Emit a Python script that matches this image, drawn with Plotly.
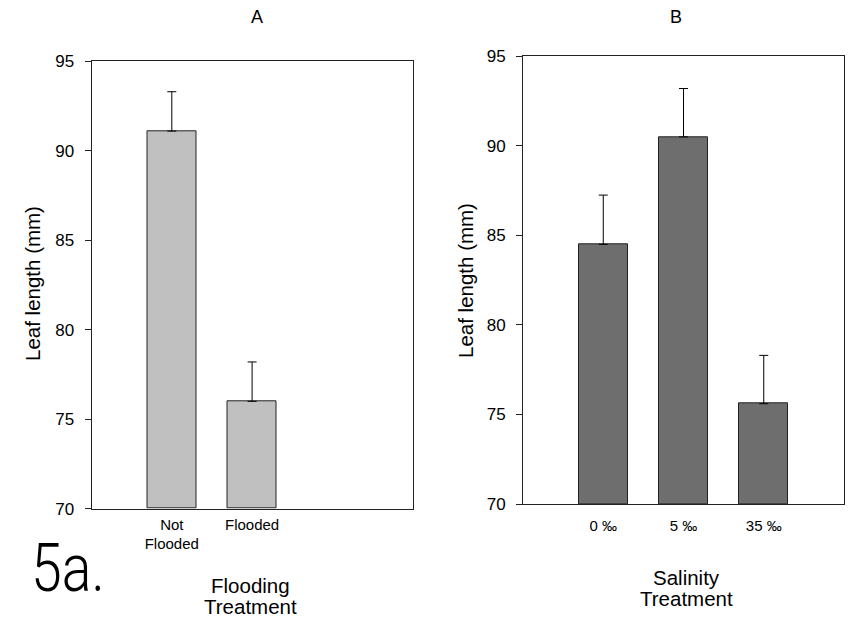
import plotly.graph_objects as go

# Panel A data
flood_labels = ["Not<br>Flooded", "Flooded"]
flood_means = [91.1, 76.0]
flood_se = [2.2, 2.2]

# Panel B data
sal_labels = ["0 ‰", "5 ‰", "35 ‰"]
sal_means = [84.5, 90.5, 75.6]
sal_se = [2.75, 2.7, 2.7]

y_ticks = [70, 75, 80, 85, 90, 95]

W, H = 848, 619
FONT = "Liberation Sans, Arial, sans-serif"

def px_x(v):
    return v / W

def px_y(v):
    return 1 - v / H

fig = go.Figure()

fig.add_trace(go.Bar(
    x=list(range(len(flood_means))), y=[m - 70 for m in flood_means], base=70,
    marker=dict(color="#c0c0c0", line=dict(color="#222222", width=1)),
    width=0.61,
    error_y=dict(type="data", array=flood_se, arrayminus=[0] * len(flood_se), symmetric=False,
                 color="black", thickness=1, width=4.5),
    xaxis="x", yaxis="y", showlegend=False,
))

fig.add_trace(go.Bar(
    x=list(range(len(sal_means))), y=[m - 70 for m in sal_means], base=70,
    marker=dict(color="#6e6e6e", line=dict(color="#222222", width=1)),
    width=0.61,
    error_y=dict(type="data", array=sal_se, arrayminus=[0] * len(sal_se), symmetric=False,
                 color="black", thickness=1, width=4.5),
    xaxis="x2", yaxis="y2", showlegend=False,
))

axis_common_y = dict(
    range=[70, 95], tickvals=y_ticks, ticks="outside", ticklen=6, tickwidth=1,
    tickcolor="#222222", showline=True, linecolor="#222222", linewidth=1, mirror=True,
    showgrid=False, zeroline=False, tickfont=dict(family=FONT, size=17, color="black"),
    ticklabelstandoff=7, automargin=False,
)
axis_common_x = dict(
    range=[-1, 3], ticks="", showline=True, linecolor="#222222", linewidth=1, mirror=True,
    showgrid=False, zeroline=False, tickfont=dict(family=FONT, size=15, color="black"),
    automargin=False,
)

fig.update_layout(
    width=W, height=H, margin=dict(l=0, r=0, t=0, b=0, autoexpand=False),
    plot_bgcolor="white", paper_bgcolor="white",
    bargap=0,
    xaxis=dict(axis_common_x, domain=[px_x(91.5), px_x(412.7)], anchor="y",
               tickvals=list(range(len(flood_labels))), ticktext=flood_labels,
               ticklabelstandoff=2),
    yaxis=dict(axis_common_y, domain=[px_y(508.7), px_y(61.3)], anchor="x"),
    xaxis2=dict(axis_common_x, domain=[px_x(523), px_x(844)], anchor="y2",
                tickvals=list(range(len(sal_labels))), ticktext=sal_labels,
                ticklabelstandoff=8),
    yaxis2=dict(axis_common_y, domain=[px_y(504), px_y(56.3)], anchor="x2"),
)

def ann(text, x, y, size, angle=0, family=FONT, weight=None):
    f = dict(family=family, size=size, color="black")
    if weight:
        f["weight"] = weight
    fig.add_annotation(text=text, x=px_x(x), y=px_y(y), xref="paper", yref="paper",
                       showarrow=False, textangle=angle, xanchor="center", yanchor="middle",
                       font=f)

ann("A", 257, 17, 18)
ann("B", 676, 17, 18)
ann("Leaf length (mm)", 33, 284, 20.5, angle=-90)
ann("Leaf length (mm)", 465, 280, 20.5, angle=-90)
ann("Flooding", 250, 585, 20.5)
ann("Treatment", 250, 606, 20.5)
ann("Salinity", 686, 577, 20.5)
ann("Treatment", 686, 598, 20.5)
ann("5a.", 68, 568, 66, family="Roboto, sans-serif", weight=300)

post = """
document.body.style.margin='0';
document.body.style.overflow='hidden';
document.querySelectorAll('text.annotation-text').forEach(function(t){
  if (t.textContent === '5a.') {
    var cx = parseFloat(t.getAttribute('x')) || 0;
    t.setAttribute('transform', 'translate(' + cx + ',0) scale(0.84,1) translate(' + (-cx) + ',0)');
  }
});
"""

fig.write_html("out.html", config={"displayModeBar": False}, post_script=post)
